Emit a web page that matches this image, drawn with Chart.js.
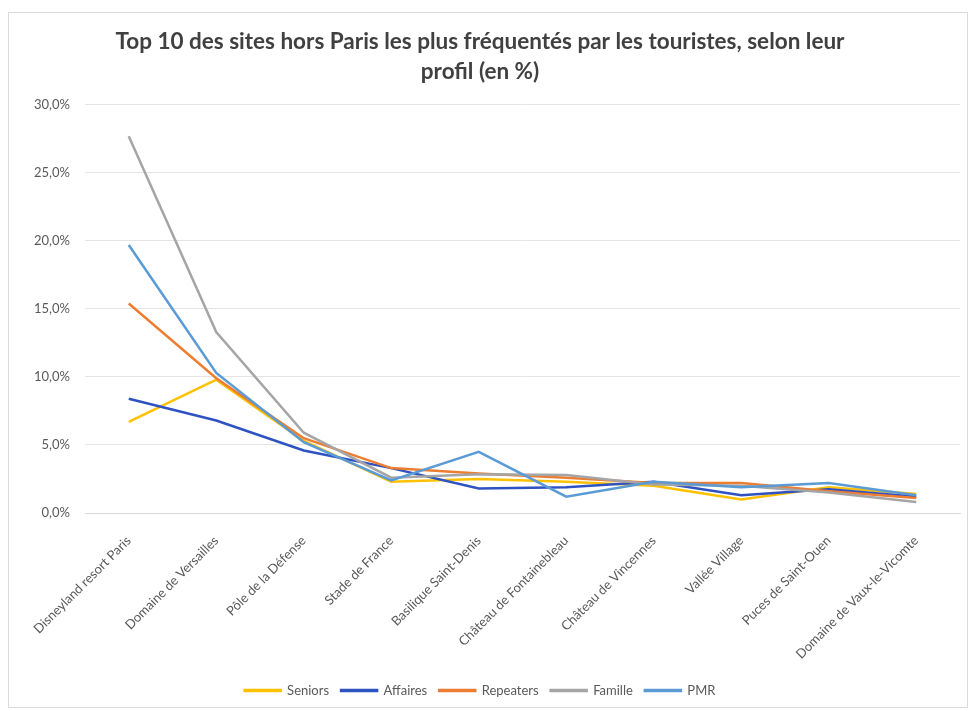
<!DOCTYPE html>
<html>
<head>
<meta charset="utf-8">
<script src="https://cdn.jsdelivr.net/npm/chart.js@4/dist/chart.umd.min.js"></script>
<style>
  html, body { margin: 0; padding: 0; background: #ffffff; }
  #wrap { position: relative; width: 970px; height: 711px; }
  #frame { position: absolute; left: 8px; top: 12px; width: 958px; height: 694px; border: 1px solid #d9d9d9; pointer-events: none; }
  canvas { position: absolute; left: 0; top: 0; }
</style>
</head>
<body>
<div id="wrap">
  <canvas id="c" width="970" height="711"></canvas>
  <div id="frame"></div>
</div>
<script>
const titleLines = [
  "Top 10 des sites hors Paris les plus fréquentés par les touristes, selon leur",
  "profil (en %)"
];
const categories = [
  "Disneyland resort Paris",
  "Domaine de Versailles",
  "Pôle de la Défense",
  "Stade de France",
  "Basilique Saint-Denis",
  "Château de Fontainebleau",
  "Château de Vincennes",
  "Vallée Village",
  "Puces de Saint-Ouen",
  "Domaine de Vaux-le-Vicomte"
];
const seniors   = [6.7, 9.8, 5.3, 2.3, 2.5, 2.3, 2.0, 1.0, 1.9, 1.4];
const affaires  = [8.4, 6.8, 4.6, 3.3, 1.8, 1.9, 2.3, 1.3, 1.75, 1.2];
const repeaters = [15.4, 9.9, 5.5, 3.3, 2.9, 2.6, 2.2, 2.2, 1.6, 1.1];
const famille   = [27.7, 13.3, 5.9, 2.6, 2.85, 2.8, 2.1, 2.0, 1.5, 0.8];
const pmr       = [19.7, 10.3, 5.2, 2.4, 4.5, 1.2, 2.3, 1.9, 2.2, 1.3];
const yTickLabels = ["0,0%", "5,0%", "10,0%", "15,0%", "20,0%", "25,0%", "30,0%"];

const FONT = "Lato, 'Open Sans', sans-serif";
function ds(label, data, color) {
  return {
    label: label, data: data,
    borderColor: color, backgroundColor: color,
    borderWidth: 2.5, pointRadius: 0, tension: 0, fill: false
  };
}

new Chart(document.getElementById("c"), {
  type: "line",
  data: {
    labels: categories,
    // reversed so that PMR is drawn on top (as in the original); legend is reversed back
    datasets: [
      ds("PMR", pmr, "#5b9bd5"),
      ds("Famille", famille, "#a5a5a5"),
      ds("Repeaters", repeaters, "#ed7d31"),
      ds("Affaires", affaires, "#2f52c2"),
      ds("Seniors", seniors, "#ffc000")
    ]
  },
  options: {
    responsive: false,
    animation: false,
    devicePixelRatio: 1,
    layout: { padding: { left: 0, right: 10, top: 0, bottom: 4 } },
    plugins: {
      title: {
        display: true,
        text: titleLines,
        color: "#404040",
        font: { family: FONT, size: 22.5, weight: "bold", lineHeight: 1.33 },
        padding: { top: 27, bottom: 18 }
      },
      legend: {
        display: true,
        position: "bottom",
        reverse: true,
        labels: {
          color: "#595959",
          font: { family: FONT, size: 13 },
          boxWidth: 36,
          boxHeight: 1,
          padding: 12
        }
      },
      tooltip: { enabled: false }
    },
    scales: {
      x: {
        offset: true,
        grid: { display: false, drawTicks: false },
        border: { display: true, color: "#d9d9d9", width: 1 },
        ticks: {
          color: "#595959",
          font: { family: FONT, size: 13 },
          maxRotation: 45, minRotation: 45,
          padding: 20,
          autoSkip: false
        },
        afterFit: function (s) { s.height = 159; }
      },
      y: {
        min: 0, max: 30,
        ticks: {
          stepSize: 5,
          color: "#595959",
          font: { family: FONT, size: 13 },
          padding: 15,
          callback: function (v) { return yTickLabels[Math.round(v / 5)]; }
        },
        grid: { color: "#e4e4e4", drawTicks: false },
        border: { display: false },
        afterFit: function (s) { s.width = 85; }
      }
    }
  }
});
</script>
</body>
</html>
